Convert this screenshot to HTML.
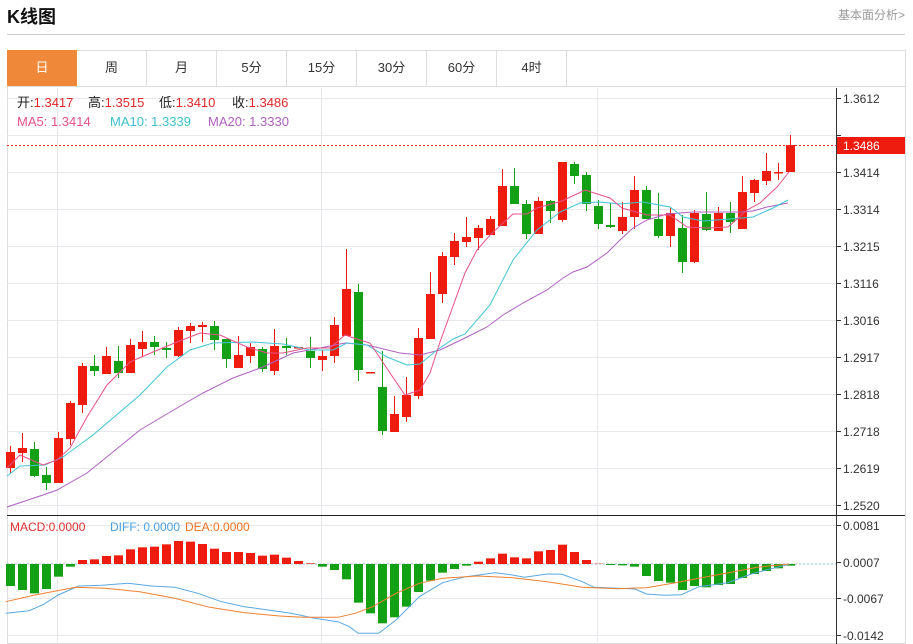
<!DOCTYPE html>
<html><head><meta charset="utf-8"><style>
body{margin:0;width:913px;height:644px;overflow:hidden;background:#fff;font-family:"Liberation Sans","Noto Sans CJK SC",sans-serif;}
#t{position:absolute;left:7px;top:3px;font-size:18px;font-weight:bold;color:#111;}
#r{position:absolute;left:838px;top:6px;font-size:12px;color:#999;}
#hl{position:absolute;left:7px;top:34px;width:898px;height:1px;background:#ccc;}
.tab{position:absolute;top:50px;height:36px;width:70px;line-height:36px;text-align:center;font-size:13px;color:#333;border-right:1px solid #ddd;box-sizing:border-box;}
svg{position:absolute;left:0;top:0}
</style></head><body>
<div id="t">K线图</div><div id="r">基本面分析&gt;</div><div id="hl"></div>
<svg width="913" height="644" id="s" font-family="Liberation Sans, Noto Sans CJK SC, sans-serif">
<rect x="7.5" y="50.5" width="898" height="593" fill="none" stroke="#ddd"/>
<line x1="7" y1="86.5" x2="905" y2="86.5" stroke="#ddd"/>
</svg>
<div class="tab" style="left:7px;background:#f0883a;color:#fff;border:none">日</div>
<div class="tab" style="left:77px">周</div>
<div class="tab" style="left:147px">月</div>
<div class="tab" style="left:217px">5分</div>
<div class="tab" style="left:287px">15分</div>
<div class="tab" style="left:357px">30分</div>
<div class="tab" style="left:427px">60分</div>
<div class="tab" style="left:497px">4时</div>
<script>
var s=document.getElementById('s'),NS='http://www.w3.org/2000/svg';
function el(t,a,txt){var e=document.createElementNS(NS,t);for(var k in a)e.setAttribute(k,a[k]);if(txt!=null)e.textContent=txt;s.appendChild(e);return e;}
var labs=['1.3612','1.3513','1.3414','1.3314','1.3215','1.3116','1.3016','1.2917','1.2818','1.2718','1.2619','1.2520'];
for(var i=0;i<12;i++){var y=98+37*i;el('line',{x1:7,x2:836,y1:y+.5,y2:y+.5,stroke:'#e8e8ec'});el('line',{x1:836,x2:841,y1:y+.5,y2:y+.5,stroke:'#333'});if(i!=1)el('text',{x:843,y:y+5,'font-size':12,fill:'#333'},labs[i]);}
[57,321,597].forEach(function(x){el('line',{x1:x+.5,x2:x+.5,y1:88,y2:644,stroke:'#e8e8ec'});});
var ml=[['0.0081',525],['0.0007',562],['-0.0067',598],['-0.0142',635]];
ml.forEach(function(m){if(m[0]!='0.0007')el('line',{x1:7,x2:836,y1:m[1]+.5,y2:m[1]+.5,stroke:'#e8e8ec'});el('line',{x1:836,x2:841,y1:m[1]+.5,y2:m[1]+.5,stroke:'#333'});el('text',{x:843,y:m[1]+5,'font-size':12,fill:'#333'},m[0]);});
el('line',{x1:7,x2:836,y1:564,y2:564,stroke:'#8cc0e0','stroke-dasharray':'2,2'});
el('line',{x1:836.5,x2:836.5,y1:88,y2:644,stroke:'#333'});
el('line',{x1:7,x2:905,y1:515.5,y2:515.5,stroke:'#222'});
var C=[[452,468,446,473,1],[448,453,433,462,1],[449,476,442,477,0],[475,483,467,490,0],[438,483,432,483,1],[403,439,401,445,1],[366,405,363,413,1],[366,371,355,376,0],[356,374,347,374,1],[361,373,346,378,0],[345,373,339,373,1],[342,349,331,357,1],[342,347,336,355,0],[348,350,342,358,0],[330,356,327,357,1],[326,331,323,343,1],[325,327,322,342,1],[326,340,321,350,0],[339,359,339,368,0],[355,368,336,368,1],[347,356,343,363,1],[349,369,347,372,0],[346,371,329,375,1],[346,348,338,355,0],[347,348,347,348,1],[351,358,337,368,0],[356,360,350,371,1],[325,356,317,363,1],[289,336,249,336,1],[292,370,284,381,0],[372,373,372,373,1],[387,431,351,435,0],[414,432,396,432,1],[395,417,377,422,1],[338,396,328,399,1],[294,339,272,339,1],[256,294,252,303,1],[241,257,233,265,1],[237,242,217,247,1],[228,238,225,250,1],[219,235,216,235,1],[186,226,169,226,1],[186,204,168,204,0],[204,234,200,239,0],[201,234,197,234,1],[201,211,200,223,0],[162,220,162,222,1],[164,176,162,184,0],[175,204,172,211,0],[206,224,200,229,0],[225,227,203,228,0],[217,231,202,234,1],[190,217,176,229,1],[190,219,186,219,0],[219,236,193,238,0],[213,236,208,247,1],[228,262,215,273,0],[213,262,210,263,1],[214,230,192,231,0],[213,231,207,231,1],[213,222,202,233,0],[192,229,176,229,1],[180,193,179,202,1],[171,181,153,185,1],[172,173,163,180,1],[145,172,135,172,1]];
var R='#ee1c0e',G='#14a014';
C.forEach(function(c,i){var x=10+12*i,col=c[4]?R:G;el('line',{x1:x+.5,x2:x+.5,y1:c[2],y2:c[3],stroke:col});el('rect',{x:x-4,y:c[0],width:9,height:Math.max(1.5,c[1]-c[0]),fill:col});});
function pl(p,col,w){el('polyline',{points:p,fill:'none',stroke:col,'stroke-width':w||1});}
pl('7,507 43,495 57,490 87,473 140,430 177,408 203,393 233,378 263,367 293,353 320,348 345,343 367,345 400,353 420,355 440,350 463,339 487,327 503,315 523,303 547,290 563,278 573,272 587,267 607,253 620,240 633,228 647,220 667,214 693,212 740,212 753,211 767,207 788,203','#b060c0');
pl('7,476 20,466 45,465 63,457 93,435 140,395 167,367 190,350 213,343 253,342 283,344 310,350 333,350 347,343 367,345 387,357 407,365 420,364 437,350 453,339 465,334 490,305 513,260 537,230 560,212 580,203 600,202 620,204 643,202 670,207 683,217 703,221 730,219 753,217 773,208 788,200','#40c4d4');
pl('7,468 20,455 43,465 57,460 70,448 87,417 107,385 130,362 153,352 177,342 200,333 220,335 247,347 267,353 283,353 307,348 330,348 345,335 360,340 370,343 390,373 405,395 420,390 430,373 440,342 465,273 477,250 490,235 513,214 527,214 537,208 562,201 585,190 610,198 622,208 647,215 670,215 687,227 707,228 728,227 747,210 760,203 777,187 789,172','#e8508a');
el('line',{x1:7,x2:836,y1:145.5,y2:145.5,stroke:'#ee3030','stroke-dasharray':'2,2'});
el('rect',{x:837,y:137,width:68,height:17,fill:'#ee1c0e'});
el('text',{x:843,y:150,'font-size':12,fill:'#fff'},'1.3486');
var M=[228,240,250,237,200,170,150,148,138,136,118,112,110,103,93,95,102,116,126,126,129,137,134,143,153,160,170,180,208,278,310,340,322,290,246,212,188,177,167,155,145,131,142,145,124,120,104,126,150,161,165,166,170,198,213,218,240,228,232,225,222,204,192,183,175,167];
M.forEach(function(v,i){var x=10+12*i,y=510+v/3,z=564;el('rect',{x:x-4,y:Math.min(y,z),width:9,height:Math.abs(y-z),fill:v<162?R:G});});
function cv(a){return a.map(function(p){return (p[0]/1.717).toFixed(1)+','+(510+p[1]/3).toFixed(1);}).join(' ');}
pl(cv([[10,310],[50,302],[75,283],[100,255],[135,228],[175,226],[220,220],[260,228],[300,232],[340,250],[380,275],[420,290],[460,300],[500,310],[540,325],[580,335],[600,350],[615,370],[650,370],[680,330],[720,260],[760,218],[800,200],[850,188],[880,195],[900,202],[940,192],[965,193],[1000,215],[1020,232],[1060,235],[1090,237],[1110,252],[1140,256],[1170,254],[1200,230],[1250,218],[1290,192],[1320,178],[1355,163]]),'#5aa8e0');
pl(cv([[10,275],[60,255],[130,232],[180,235],[240,245],[300,265],[360,292],[420,308],[480,318],[520,322],[580,322],[610,310],[640,290],[680,250],[720,220],[760,205],[820,198],[880,203],[940,215],[1000,232],[1060,236],[1110,233],[1160,218],[1200,205],[1260,185],[1300,172],[1355,162]]),'#f08030');
[[17,'开:','1.3417'],[88,'高:','1.3515'],[159,'低:','1.3410'],[232,'收:','1.3486']].forEach(function(a){var t=el('text',{x:a[0],y:107,'font-size':13,fill:'#222'});t.textContent=a[1];var q=document.createElementNS(NS,'tspan');q.setAttribute('fill','#e02828');q.textContent=a[2];t.appendChild(q);});
el('text',{x:17,y:126,'font-size':13,fill:'#e8508a'},'MA5: 1.3414');
el('text',{x:110,y:126,'font-size':13,fill:'#3cc0cc'},'MA10: 1.3339');
el('text',{x:208,y:126,'font-size':13,fill:'#b060c0'},'MA20: 1.3330');
el('text',{x:10,y:531,'font-size':12,fill:'#e03030'},'MACD:0.0000');
el('text',{x:110,y:531,'font-size':12,fill:'#4aa0e0'},'DIFF: 0.0000');
el('text',{x:185,y:531,'font-size':12,fill:'#f07020'},'DEA:0.0000');
</script>
</body></html>
